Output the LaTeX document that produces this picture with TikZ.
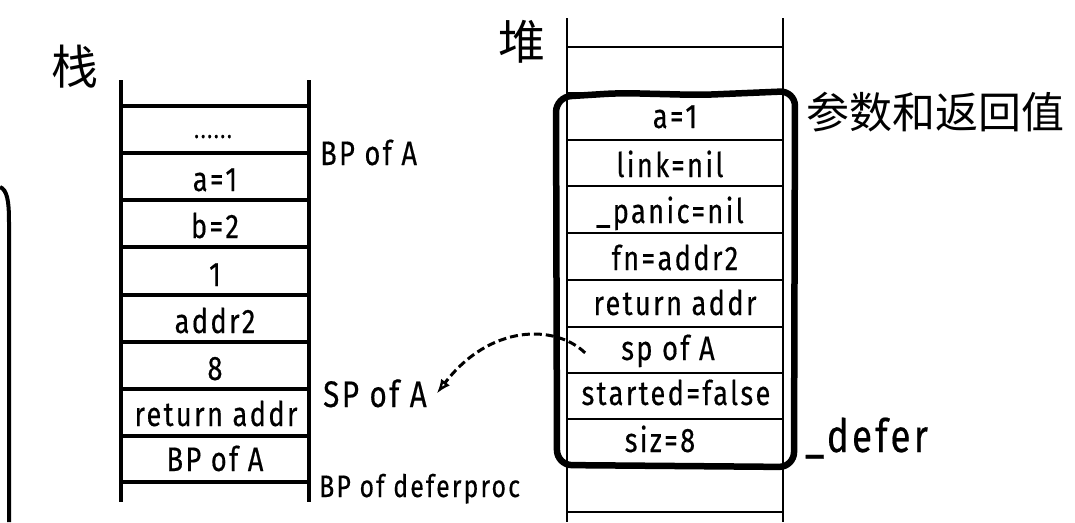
\documentclass[tikz,border=0pt]{standalone}
\usepackage{fontspec}
\setmainfont{Fira Sans}[FakeStretch=0.8,LetterSpace=7,FakeBold=0.4]
\newfontfamily\cjk{Noto Sans CJK SC}
\usetikzlibrary{arrows.meta,calc}
\begin{document}
\begin{tikzpicture}[x=1pt,y=-1pt,
  grid/.style={line width=3.2pt},
  hgrid/.style={line width=2.3pt},
  cell/.style={anchor=base,inner sep=0pt,font=\fontsize{34}{34}\selectfont},
  lab/.style={anchor=base west,inner sep=0pt,font=\fontsize{34}{34}\selectfont},
  han/.style={inner sep=0pt,font=\cjk\fontsize{47}{47}\selectfont},
  bigbox/.style={line width=6.5pt,rounded corners=15pt},
  ptr/.style={line width=3pt,dash pattern=on 8pt off 4pt,-{Latex[open,length=14pt,width=11pt,line width=2.4pt]}}]
\useasboundingbox (0,0) rectangle (1075,522);

% left edge rounded frame
\draw[line width=4pt] (0,187) .. controls (7,190) and (9,200) .. (9,222) -- (9,522);

% stack
\draw[grid] (121,80) -- (121,502);
\draw[grid] (309,80) -- (309,502);
\foreach \y in {106,153,200,247,295,342,389,436,482}
  \draw[grid] (121,\y) -- (309,\y);
\node[cell,font=\fontsize{25}{25}\selectfont] (s0) at (213,138) {......};
\node[cell] (s1) at (215,191) {a=1};
\node[cell] (s2) at (215,238) {b=2};
\node[cell] (s3) at (215,286) {1};
\node[cell] (s4) at (215,333) {addr2};
\node[cell] (s5) at (215,380) {8};
\node[cell] (s6) at (216,426) {return addr};
\node[cell] (s7) at (215,471) {BP of A};

\node[han] (zhan) at (75,67) {栈};
\node[lab] (bpA) at (320,165) {BP of A};
\node[lab,font=\fontsize{37}{37}\selectfont] (spA) at (323,407) {SP of A};
\node[lab,font=\fontsize{31}{31}\selectfont] (bpD) at (319,497) {BP of deferproc};

% heap
\draw[hgrid] (567,18) -- (567,522);
\draw[hgrid] (783,18) -- (783,522);
\foreach \y in {47,93,140,186,233,280,327,373,419,466,512}
  \draw[hgrid] (567,\y) -- (783,\y);
\node[cell] (h1) at (675,128) {a=1};
\node[cell] (h2) at (670,177) {link=nil};
\node[cell] (h3) at (670,223) {\_panic=nil};
\node[cell] (h4) at (675,270) {fn=addr2};
\node[cell] (h5) at (675,315) {return addr};
\node[cell] (hsp) at (668,360) {sp of A};
\node[cell] (h7) at (676,405) {started=false};
\node[cell] (h8) at (660,452) {siz=8};

\draw[bigbox] (556,97) -- (620,93) -- (700,95) -- (795,91) -- (794,467) -- (557,465) -- cycle;

\node[han] (dui) at (522,42) {堆};
\node[han,anchor=west,font=\cjk\fontsize{43}{43}\selectfont] (cs) at (806,112) {参数和返回值};
\node[lab,font=\fontsize{46}{46}\selectfont] (defer) at (805,452) {\_defer};

\draw[ptr] ($(hsp.west)+(-36,2)$) .. controls (555,324) and (490,324) .. ($(spA.east)+(10,0)$);
\end{tikzpicture}
\end{document}
